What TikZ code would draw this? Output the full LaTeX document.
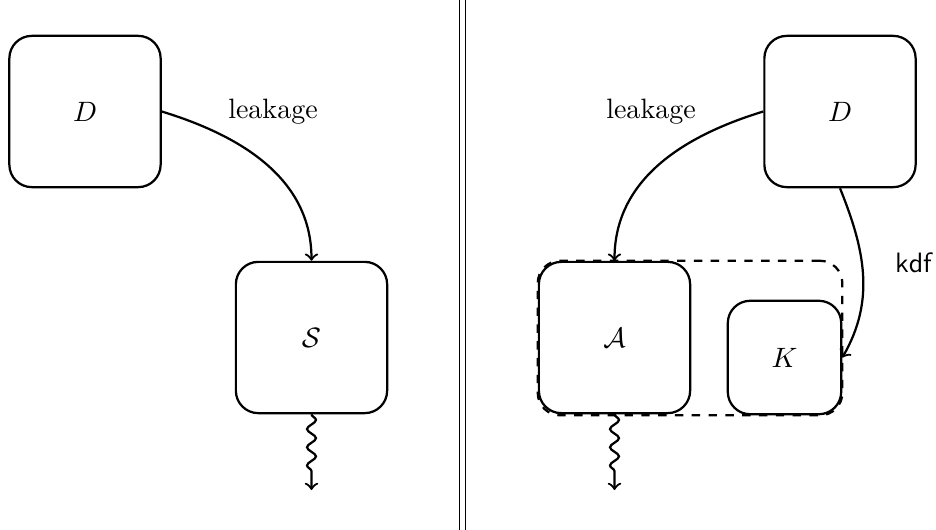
\documentclass[tikz,border=0pt]{standalone}
\usetikzlibrary{fit,decorations.pathmorphing}
\begin{document}
\begin{tikzpicture}[x=0.357pt,y=-0.357pt,
  party/.style={draw,line width=0.8pt,rounded corners=8pt,minimum size=54pt,inner sep=0pt},
  small party/.style={party,minimum size=40.5pt},
  flow/.style={->,line width=0.8pt},
  wavy/.style={->,line width=0.8pt,decorate,
    decoration={snake,amplitude=1.6pt,segment length=6.5pt,post length=4pt}},
  lbl/.style={inner sep=0pt}]
\useasboundingbox (0,0) rectangle (936,530);

% panel separator
\draw[double,double distance=2pt,line width=0.4pt] (462.5,0) -- (462.5,530);

% left panel
\node[party] (D1) at (85,111.5) {$D$};
\node[party] (S) at (311.5,337.5) {$\mathcal{S}$};
\node[lbl] (leakL) at (273,112) {leakage};
\coordinate (outL) at (311.5,490);
\draw[flow] (D1.east) to[out=-17,in=90] (S.north);
\draw[wavy] (S.south) -- (outL);

% right panel
\node[party] (D2) at (840,111.5) {$D$};
\node[party] (A) at (614.5,337.5) {$\mathcal{A}$};
\node[small party] (K) at (784.5,357.5) {$K$};
\node[draw,dashed,line width=0.8pt,rounded corners=8pt,inner sep=0pt,fit=(A)(K)] (AK) {};
\node[lbl] (leakR) at (651,112) {leakage};
\node[lbl] (kdf) at (914,263) {\textsf{kdf}};
\coordinate (outR) at (614.5,490);
\draw[flow] (D2.west) to[out=197,in=90] (A.north);
\draw[flow] (D2.south) to[out=-68,in=60] (K.east);
\draw[wavy] (A.south) -- (outR);
\end{tikzpicture}
\end{document}
